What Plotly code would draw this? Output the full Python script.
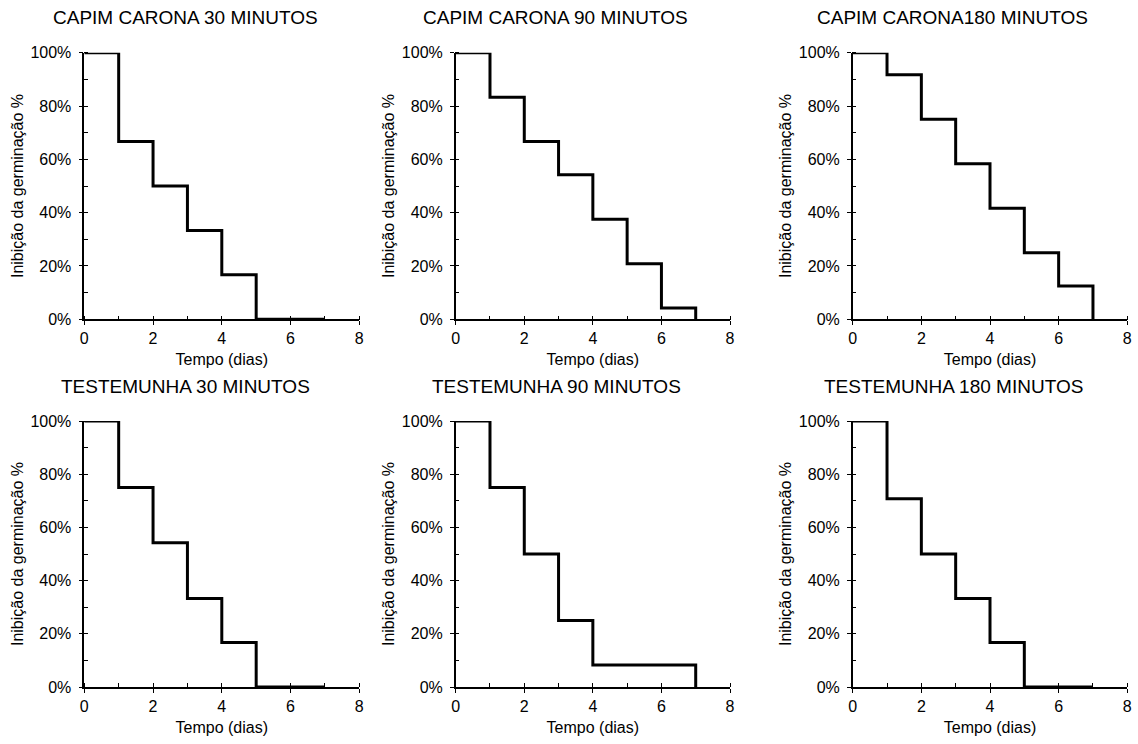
import plotly.graph_objects as go

# ---- data ----
dias = [0, 1, 2, 3, 4, 5, 6, 7]
titulos = [
    "CAPIM CARONA 30 MINUTOS",
    "CAPIM CARONA 90 MINUTOS",
    "CAPIM CARONA180 MINUTOS",
    "TESTEMUNHA 30 MINUTOS",
    "TESTEMUNHA 90 MINUTOS",
    "TESTEMUNHA 180 MINUTOS",
]
capim_30 = [100, 66.7, 50, 33.3, 16.7, 0, 0, 0]
capim_90 = [100, 83.3, 66.7, 54.2, 37.5, 20.8, 4.2, 0]
capim_180 = [100, 91.7, 75, 58.3, 41.7, 25, 12.5, 0]
test_30 = [100, 75, 54.2, 33.3, 16.7, 0, 0, 0]
test_90 = [100, 75, 50, 25, 8.3, 8.3, 8.3, 0]
test_180 = [100, 70.8, 50, 33.3, 16.7, 0, 0, 0]
series = [capim_30, capim_90, capim_180, test_30, test_90, test_180]

x_ticks = [0, 2, 4, 6, 8]
y_ticks = [0, 20, 40, 60, 80, 100]

# ---- layout geometry (pixels) ----
W, H = 1138, 744
x_doms_px = [(84.3, 359.3), (455.7, 730.0), (852.7, 1127.3)]
y_doms_px = [(52.7, 319.3), (421.0, 687.0)]
title_cx_px = [[185, 555, 952.5], [186, 556, 953]]
title_cy_px = [18, 386]

FONT = "Arial, Liberation Sans, sans-serif"

fig = go.Figure()
layout = dict(
    width=W, height=H,
    margin=dict(l=0, r=0, t=0, b=0, autoexpand=False),
    paper_bgcolor="white", plot_bgcolor="white",
    showlegend=False,
    font=dict(family=FONT, color="black", size=16),
)
annotations = []

for i, ys in enumerate(series):
    r, c = divmod(i, 3)
    n = i + 1
    xa = "x" if n == 1 else f"x{n}"
    ya = "y" if n == 1 else f"y{n}"
    fig.add_trace(go.Scatter(
        x=dias, y=ys, mode="lines",
        line=dict(shape="hv", color="black", width=3),
        xaxis=xa, yaxis=ya, cliponaxis=False, hoverinfo="x+y",
    ))
    x0, x1 = x_doms_px[c]
    yt, yb = y_doms_px[r]
    xkey = "xaxis" if n == 1 else f"xaxis{n}"
    ykey = "yaxis" if n == 1 else f"yaxis{n}"
    layout[xkey] = dict(
        domain=[x0 / W, x1 / W], anchor=ya, range=[0, 8], automargin=False,
        tickmode="array", tickvals=x_ticks, ticktext=[str(v) for v in x_ticks],
        ticks="outside", ticklen=4, tickwidth=1.3, tickcolor="black",
        minor=dict(dtick=1, ticks="inside", ticklen=4, tickwidth=1.3, tickcolor="black"),
        showline=True, linecolor="black", linewidth=1.5,
        showgrid=False, zeroline=False,
        tickfont=dict(size=16, family=FONT, color="black"),
        title=dict(text="Tempo (dias)", font=dict(size=16, family=FONT, color="black"), standoff=8),
    )
    layout[ykey] = dict(
        domain=[1 - yb / H, 1 - yt / H], anchor=xa, range=[0, 100], automargin=False,
        tickmode="array", tickvals=y_ticks, ticktext=[f"{v}%" for v in y_ticks],
        ticks="outside", ticklen=4, tickwidth=1.3, tickcolor="black",
        ticklabelstandoff=4,
        minor=dict(dtick=10, ticks="inside", ticklen=4, tickwidth=1.3, tickcolor="black"),
        showline=True, linecolor="black", linewidth=1.5,
        showgrid=False, zeroline=False,
        tickfont=dict(size=16, family=FONT, color="black"),
        title=dict(text="Inibição da germinação %", font=dict(size=16, family=FONT, color="black"), standoff=3),
    )
    annotations.append(dict(
        text=titulos[i], xref="paper", yref="paper",
        x=title_cx_px[r][c] / W, y=1 - title_cy_px[r] / H,
        xanchor="center", yanchor="middle", showarrow=False,
        font=dict(size=19, family=FONT, color="black"),
    ))

layout["annotations"] = annotations
fig.update_layout(**layout)
fig.write_html("out.html")
